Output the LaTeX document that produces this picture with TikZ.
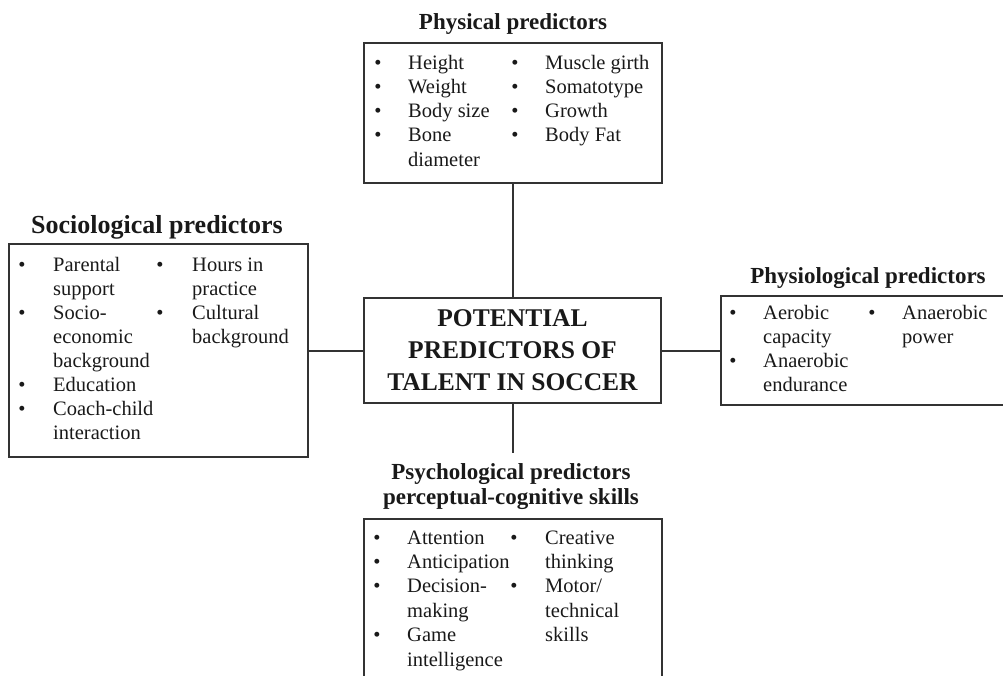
\documentclass[tikz,border=0pt]{standalone}
\usepackage{fontspec}
\setmainfont{Liberation Serif}
\tikzstyle{box}=[draw=black!80, line width=1.8pt, inner sep=0]
\tikzstyle{link}=[draw=black!80, line width=2pt]
\tikzstyle{item}=[anchor=base west, inner sep=0, text=black!90,
		font=\fontsize{20.5}{24}\selectfont]
\tikzstyle{dot}=[anchor=base, inner sep=0, text=black!90,
		font=\fontsize{20.5}{24}\selectfont]
\tikzstyle{title}=[anchor=base, inner sep=0, text=black!90,
		font=\fontsize{23}{26}\selectfont\bfseries]

\begin{document}
\begin{tikzpicture}[x=1pt, y=-1pt]
        \useasboundingbox (0,0) rectangle (1003,675);
        \clip (0,0) rectangle (1003,675);
        \node[box, minimum width=298pt, minimum height=140pt] (phys) at (513,113) {};
        \node[box, minimum width=299pt, minimum height=213pt] (socio) at (158.5,350.5) {};
        \node[box, minimum width=297pt, minimum height=105pt, align=center, text=black!90,
            font=\fontsize{25.5}{32}\selectfont\bfseries] (centre) at (512.5,350.5)
            {POTENTIAL\\PREDICTORS OF\\TALENT IN SOCCER};
        \node[box, minimum width=300pt, minimum height=109pt] (physio) at (871,350.5) {};
        \node[box, minimum width=298pt, minimum height=180pt] (psych) at (513,609) {};

        \node[title] (phystitle) at (513,29) {Physical predictors};
        \node[title, font=\fontsize{26}{30}\selectfont\bfseries] (sociotitle) at (157,233) {Sociological predictors};
        \node[title] (physiotitle) at (868,283) {Physiological predictors};
        \node[title] (psychtitle) at (511,479) {Psychological predictors};
        \node[title] (psychsub) at (511,504) {perceptual-cognitive skills};

        \coordinate (psychtop) at (512.5,453);
        \draw[link] (centre.north) -- (centre.north |- phys.south);
        \draw[link] (centre.south) -- (psychtop);
        \draw[link] (centre.west) -- (socio.east);
        \draw[link] (centre.east) -- (physio.west);

        \foreach \t [count=\i from 0] in {Height,Weight,Body size,Bone,diameter}
            \node[item] (phys-a\i) at (408,69+24.3*\i) {\t};
        \foreach \t [count=\i from 0] in {Muscle girth,Somatotype,Growth,Body Fat}
            \node[item] (phys-b\i) at (545,69+24.3*\i) {\t};
        \foreach \i in {0,...,3} {
            \node[dot] (phys-da\i) at (378,69+24.3*\i) {\textbullet};
            \node[dot] (phys-db\i) at (515,69+24.3*\i) {\textbullet};
        }

        \foreach \t [count=\i from 0] in {Parental,support,Socio-,economic,background,Education,Coach-child,interaction}
            \node[item] (socio-a\i) at (53,271+24.1*\i) {\t};
        \foreach \t [count=\i from 0] in {Hours in,practice,Cultural,background}
            \node[item] (socio-b\i) at (192,271+24.1*\i) {\t};
        \foreach \i in {0,2,5,6}
            \node[dot] (socio-da\i) at (22,271+24.1*\i) {\textbullet};
        \foreach \i in {0,2}
            \node[dot] (socio-db\i) at (160,271+24.1*\i) {\textbullet};

        \foreach \t [count=\i from 0] in {Aerobic,capacity,Anaerobic,endurance}
            \node[item] (physio-a\i) at (763,319+24.1*\i) {\t};
        \foreach \t [count=\i from 0] in {Anaerobic,power}
            \node[item] (physio-b\i) at (902,319+24.1*\i) {\t};
        \foreach \i in {0,2}
            \node[dot] (physio-da\i) at (733,319+24.1*\i) {\textbullet};
        \node[dot] (physio-db0) at (872,319) {\textbullet};

        \foreach \t [count=\i from 0] in {Attention,Anticipation,Decision-,making,Game,intelligence}
            \node[item] (psych-a\i) at (407,544+24.4*\i) {\t};
        \foreach \t [count=\i from 0] in {Creative,thinking,Motor/,technical,skills}
            \node[item] (psych-b\i) at (545,544+24.4*\i) {\t};
        \foreach \i in {0,1,2,4}
            \node[dot] (psych-da\i) at (377,544+24.4*\i) {\textbullet};
        \foreach \i in {0,2}
            \node[dot] (psych-db\i) at (514,544+24.4*\i) {\textbullet};
    \end{tikzpicture}
\end{document}
